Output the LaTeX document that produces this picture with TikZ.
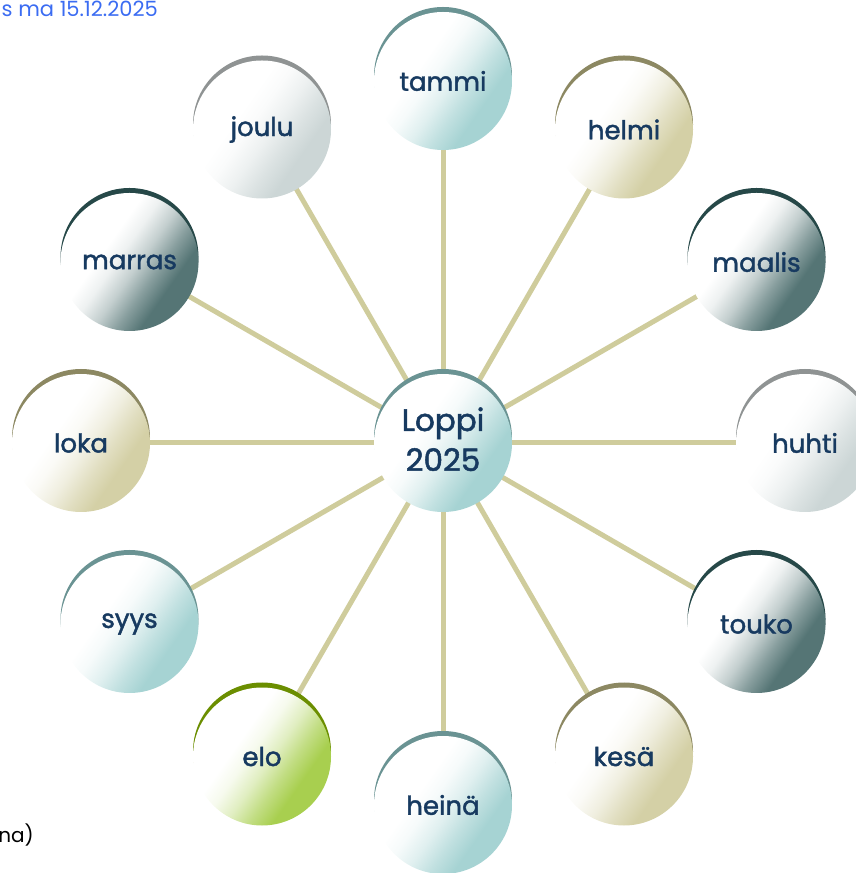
\documentclass[tikz,border=0pt]{standalone}
\usepackage{fontspec}
\setmainfont{Poppins}
\newfontfamily\bubfont{Poppins}[FakeBold=1.6]
\usetikzlibrary{calc,backgrounds}
\definecolor{txt}{HTML}{173A60}
\definecolor{linec}{HTML}{CFCC9C}
\definecolor{datec}{HTML}{3B6CF2}
\definecolor{tealD}{HTML}{6A9393}\definecolor{tealL}{HTML}{A6D3D3}
\definecolor{khakiD}{HTML}{8C8862}\definecolor{khakiL}{HTML}{D4D0A6}
\definecolor{slateD}{HTML}{264848}\definecolor{slateL}{HTML}{557575}
\definecolor{grayD}{HTML}{8F9393}\definecolor{grayL}{HTML}{CCD6D6}
\definecolor{greenD}{HTML}{6B8E00}\definecolor{greenL}{HTML}{A8CF4F}
\colorlet{mylight}{tealL}
\pgfdeclareverticalshading[mylight]{bubshade}{100bp}{color(0bp)=(mylight); color(33bp)=(mylight); color(40bp)=(mylight!70!white); color(47bp)=(mylight!35!white); color(54bp)=(mylight!10!white); color(60bp)=(white); color(100bp)=(white)}
\tikzset{
  bubble/.style={circle, minimum size=138pt, inner sep=0pt, text=txt,
    font=\bubfont\fontsize{26}{30}\selectfont, shade, shading=bubshade, shading angle=55},
  crest/.style={fill=#1D},
  spoke/.style={line width=5pt, draw=linec},
}
\newcommand\mybubble[4]{% name, position, text, theme
  \fill[crest=#4] ($(#2)+(0,5)$) circle (69pt);
  \colorlet{mylight}{#4L}%
  \node[bubble] (#1) at (#2) {#3};
}
\begin{document}
\begin{tikzpicture}[x=1pt,y=1pt]
\useasboundingbox (0,0) rectangle (856,873);
\coordinate (c) at (443,430);
\mybubble{center}{c}{\fontsize{31}{40}\selectfont\begin{tabular}{@{}c@{}}Loppi\\2025\end{tabular}}{teal}
\mybubble{tammi}{$(c)+(90:362)$}{tammi}{teal}
\mybubble{helmi}{$(c)+(60:362)$}{helmi}{khaki}
\mybubble{maalis}{$(c)+(30:362)$}{maalis}{slate}
\mybubble{huhti}{$(c)+(0:362)$}{huhti}{gray}
\mybubble{touko}{$(c)+(-30:362)$}{touko}{slate}
\mybubble{kesa}{$(c)+(-60:362)$}{kesä}{khaki}
\mybubble{heina}{$(c)+(-90:362)$}{heinä}{teal}
\mybubble{elo}{$(c)+(-120:362)$}{elo}{green}
\mybubble{syys}{$(c)+(-150:362)$}{syys}{teal}
\mybubble{loka}{$(c)+(180:362)$}{loka}{khaki}
\mybubble{marras}{$(c)+(150:362)$}{marras}{slate}
\mybubble{joulu}{$(c)+(120:362)$}{joulu}{gray}
\begin{scope}[on background layer]
\foreach \m in {tammi,helmi,maalis,huhti,touko,kesa,heina,elo,syys,loka,marras,joulu}
  \draw[spoke] (center.center) -- (\m.center);
\end{scope}
\node[anchor=base east, inner sep=0pt, text=datec, font=\fontsize{21}{24}\selectfont] (date) at (158,856) {s ma 15.12.2025};
\node[anchor=base east, inner sep=0pt, text=black, font=\fontsize{20}{22}\selectfont] (note) at (34,30) {na)};
\end{tikzpicture}
\end{document}
